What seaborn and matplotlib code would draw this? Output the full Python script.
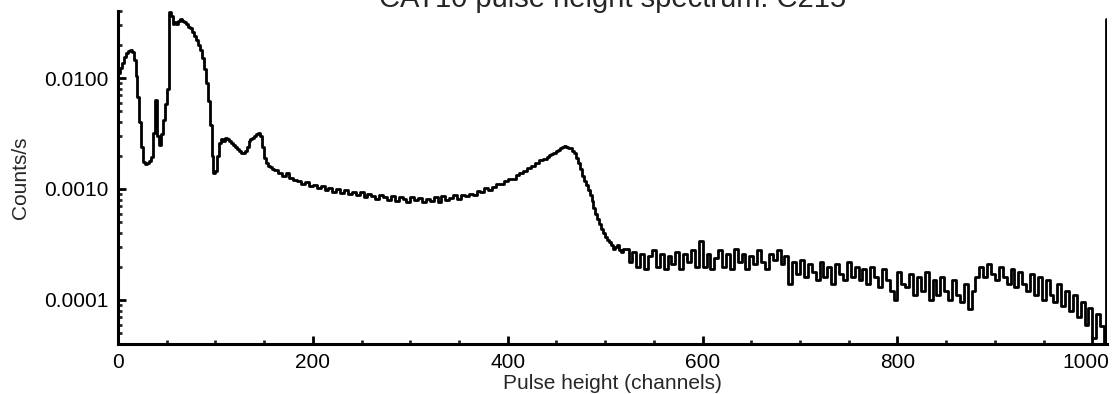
import matplotlib
matplotlib.use("Agg")
import matplotlib.pyplot as plt
import matplotlib.ticker as mticker
import matplotlib.transforms as mtransforms
import seaborn as sns
import pandas as pd

# spectrum: 2-channel bins where the shape changes fast,
# 4-channel bins elsewhere; last entry is the overflow channel
channels = (list(range(0, 160, 2)) + list(range(160, 440, 4))
            + list(range(440, 520, 2)) + list(range(520, 1013, 4)) + [1014])
counts = [
    # 0-158
    0.0110, 0.0122, 0.0138, 0.0155, 0.0168, 0.0176, 0.0179, 0.0170, 0.0145, 0.0105,
    0.0068, 0.0040, 0.0024, 0.00175, 0.00168, 0.00172, 0.00178, 0.00195, 0.0032, 0.0064,
    0.0030, 0.0025, 0.0031, 0.0042, 0.0058, 0.0080, 0.039, 0.036, 0.031, 0.032,
    0.031, 0.033, 0.034, 0.033, 0.032, 0.031, 0.029, 0.028, 0.026, 0.024,
    0.022, 0.020, 0.018, 0.015, 0.012, 0.0090, 0.0062, 0.0038, 0.0020, 0.00140,
    0.00145, 0.0020, 0.0026, 0.0028, 0.0027, 0.0029, 0.0028, 0.0027, 0.0026, 0.0025,
    0.0024, 0.0023, 0.0022, 0.0021, 0.0021, 0.0022, 0.0024, 0.0027, 0.0028, 0.0029,
    0.0030, 0.0031, 0.0032, 0.0030, 0.0024, 0.0019, 0.00172, 0.00162, 0.00158, 0.00152,
    # 160-436
    0.00148, 0.00138, 0.00132, 0.00139, 0.00126, 0.00121, 0.00117, 0.00112, 0.00115, 0.00106,
    0.00109, 0.00101, 0.00106, 0.00098, 0.00103, 0.00094, 0.00099, 0.00092, 0.00097, 0.00090,
    0.00094, 0.00088, 0.00093, 0.00085, 0.00091, 0.00087, 0.00082, 0.00089, 0.00084, 0.00080,
    0.00086, 0.00078, 0.00084, 0.00081, 0.00076, 0.00085, 0.00079, 0.00083, 0.00077, 0.00082,
    0.00078, 0.00084, 0.00076, 0.00086, 0.00080, 0.00083, 0.00088, 0.00082, 0.00089, 0.00086,
    0.00091, 0.00088, 0.00095, 0.00093, 0.00101, 0.00098, 0.00105, 0.00112, 0.00110, 0.00118,
    0.00124, 0.00122, 0.00133, 0.00138, 0.00146, 0.00155, 0.00162, 0.00170, 0.00181, 0.00188,
    # 440-518
    0.00196, 0.00201, 0.00205, 0.00210, 0.00212, 0.00218, 0.00225, 0.00232, 0.00238, 0.00242,
    0.00240, 0.00236, 0.00232, 0.00222, 0.00210, 0.00192, 0.00172, 0.00150, 0.00132, 0.00118,
    0.00108, 0.00098, 0.00088, 0.00078, 0.00068, 0.00060, 0.00054, 0.00048, 0.00044, 0.00040,
    0.00037, 0.00035, 0.00033, 0.00031, 0.00029, 0.00030, 0.00031, 0.00028, 0.00027, 0.00029,
    # 520-1012
    0.00029, 0.00022, 0.00027, 0.00020, 0.00026, 0.00019, 0.00025, 0.00028, 0.00020, 0.00026,
    0.00019, 0.00025, 0.00021, 0.00027, 0.00019, 0.00026, 0.00022, 0.00028, 0.00020, 0.00034,
    0.00020, 0.00026, 0.00019, 0.00024, 0.00028, 0.00020, 0.00026, 0.00019, 0.00029, 0.00022,
    0.00026, 0.00019, 0.00025, 0.00021, 0.00028, 0.00022, 0.00019, 0.00026, 0.00023, 0.00028,
    0.00021, 0.00025, 0.00014, 0.00022, 0.00017, 0.00023, 0.00016, 0.00021, 0.00018, 0.00015,
    0.00022, 0.00016, 0.00020, 0.00014, 0.00021, 0.00017, 0.00015, 0.00022, 0.00016, 0.00020,
    0.00015, 0.00019, 0.00014, 0.00020, 0.00016, 0.00013, 0.00019, 0.00015, 0.00012, 0.00010,
    0.00018, 0.00014, 0.00013, 0.00017, 0.00011, 0.00016, 0.00012, 0.00018, 0.00010, 0.00015,
    0.00011, 0.00016, 0.00012, 0.00010, 0.00015, 0.00011, 0.000095, 0.00014, 0.000082, 0.00012,
    0.00016, 0.00020, 0.00016, 0.00021, 0.00017, 0.00015, 0.00020, 0.00016, 0.00014, 0.00019,
    0.00013, 0.00018, 0.00014, 0.00012, 0.00017, 0.00011, 0.00016, 0.00010, 0.00015, 0.00011,
    0.000095, 0.00014, 0.000088, 0.00012, 0.00008, 0.00011, 0.00007, 0.000095, 0.00006, 0.000085,
    0.000045, 0.000075, 0.000058, 0.000042,
    # overflow
    0.034,
]
x_ticks = [0, 200, 400, 600, 800, 1000]
y_ticks = [0.0001, 0.001, 0.01]

df = pd.DataFrame({"channel": channels, "rate": counts})

sns.set_style("ticks")
plt.rcParams["font.family"] = ["Liberation Sans", "DejaVu Sans"]

fig = plt.figure(figsize=(11.13, 3.94), dpi=100)
ax = fig.add_axes([0.106, 0.1277, 0.8886, 0.8444])

sns.lineplot(data=df, x="channel", y="rate", ax=ax, estimator=None,
             drawstyle="steps-post", color="black", linewidth=2.0)

ax.set_yscale("log")
ax.set_xlim(0, 1015)
ax.set_ylim(4.03e-5, 0.0402)

ax.set_xticks(x_ticks)
ax.xaxis.set_minor_locator(mticker.MultipleLocator(50))
ax.set_yticks(y_ticks)
ax.yaxis.set_major_formatter(mticker.FuncFormatter(lambda v, p: f"{v:.4f}"))
ax.yaxis.set_minor_locator(mticker.LogLocator(base=10, subs=range(2, 10)))
ax.yaxis.set_minor_formatter(mticker.NullFormatter())

ax.tick_params(which="major", direction="in", length=6, width=2, labelsize=15, pad=7,
               colors="black")
ax.tick_params(which="minor", direction="in", length=3, width=2)

# last x label sits against the right edge, nudge it in a little
last = ax.get_xticklabels()[-1]
last.set_transform(last.get_transform()
                   + mtransforms.ScaledTranslation(-7 / 100, 0, fig.dpi_scale_trans))

sns.despine(ax=ax)
for s in ["left", "bottom"]:
    ax.spines[s].set_linewidth(2.2)
    ax.spines[s].set_color("black")

ax.set_xlabel("Pulse height (channels)", fontsize=15, labelpad=1)
ax.set_ylabel("Counts/s", fontsize=15, labelpad=10)

fig.text(0.55, 0.982, "CAT10 pulse height spectrum: C215", fontsize=21,
         ha="center", va="baseline")

fig.savefig("out.png", dpi=100)
